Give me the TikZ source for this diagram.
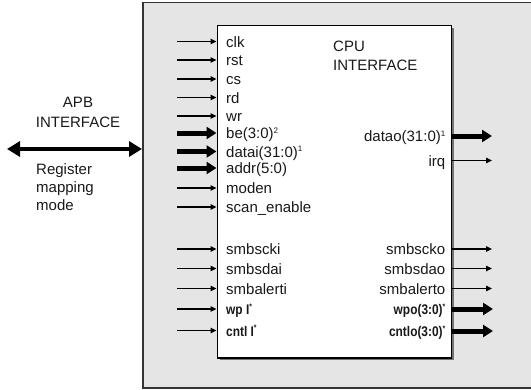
\documentclass[tikz,border=0pt]{standalone}
\usepackage{fontspec}
\setmainfont{Liberation Sans}
\newfontfamily\condb{Liberation Sans}[FakeStretch=0.85]
\usetikzlibrary{arrows.meta}
\newcommand{\supmark}[1]{\raisebox{5.5pt}{\fontsize{8}{8}\selectfont #1}}
\begin{document}
\begin{tikzpicture}[x=1pt,y=-1pt,
  lab/.style={inner sep=0pt, font=\fontsize{15}{18}\selectfont, text=black!90},
  blab/.style={inner sep=0pt, font=\condb\bfseries\fontsize{14}{18}\selectfont, text=black!90},
  thinarr/.style={line width=1.4pt, -{Triangle[length=6pt,width=5.5pt]}},
  thickarr/.style={line width=5pt, -{Triangle[length=10pt,width=12pt]}},
  busarr/.style={line width=4pt, {Triangle[length=13pt,width=15pt]}-{Triangle[length=13pt,width=15pt]}},
  outerbox/.style={draw=black!80, line width=1.5pt, fill=black!10, inner sep=0pt},
  cpubox/.style={draw=black, line width=1.5pt, fill=white, inner sep=0pt}
]
\clip (0,0) rectangle (531,389);
\fill[white] (0,0) rectangle (531,389);
% outer block
\node[outerbox, anchor=north west, minimum width=395, minimum height=385.5] (outer) at (142,1.5) {};
% shadow and cpu interface block
\fill[black!55] (219.5,27.5) rectangle (454,360);
\node[cpubox, anchor=north west, minimum width=234, minimum height=332.5] (cpu) at (216.5,24.5) {};
\node[lab, anchor=base west, align=left] (title) at (333,51) {CPU};
\node[lab, anchor=base west, align=left] (title2) at (333,70) {INTERFACE};
% inputs
\foreach \n/\y/\t/\s in {clk/41.5/clk/thinarr, rst/60/rst/thinarr, cs/79/cs/thinarr, rd/97.5/rd/thinarr, wr/116/wr/thinarr,
  be/133/{be(3:0)\supmark{2}}/thickarr, datai/151.5/{datai(31:0)\supmark{1}}/thickarr, addr/168/{addr(5:0)}/thickarr,
  moden/188/moden/thinarr, scan/207/scan\_enable/thinarr, smbscki/249/smbscki/thinarr, smbsdai/268.5/smbsdai/thinarr,
  smbalerti/288.5/smbalerti/thinarr}{
  \coordinate (i-\n) at (177,\y);
  \draw[\s] (i-\n) -- (i-\n -| cpu.west);
  \node[lab, anchor=base west] (l-\n) at (226,\y+5.5) {\t};
}
\foreach \n/\y/\t in {wp/309/{wp I\supmark{*}}, cntl/330.5/{cntl I\supmark{*}}}{
  \coordinate (i-\n) at (177,\y);
  \draw[thinarr] (i-\n) -- (i-\n -| cpu.west);
  \node[blab, anchor=base west] (l-\n) at (226,\y+5.5) {\t};
}
% outputs
\foreach \n/\y/\t/\s in {datao/136/{datao(31:0)\supmark{1}}/thickarr, irq/160.5/irq/thinarr,
  smbscko/249/smbscko/thinarr, smbsdao/268.5/smbsdao/thinarr, smbalerto/288.5/smbalerto/thinarr}{
  \coordinate (o-\n) at (492,\y);
  \draw[\s] (o-\n -| cpu.east) -- (o-\n);
  \node[lab, anchor=base east] (l-\n) at (445.5,\y+5.5) {\t};
}
\foreach \n/\y/\t in {wpo/309/{wpo(3:0)\supmark{*}}, cntlo/331/{cntlo(3:0)\supmark{*}}}{
  \coordinate (o-\n) at (493,\y);
  \draw[thickarr] (o-\n -| cpu.east) -- (o-\n);
  \node[blab, anchor=base east] (l-\n) at (445.5,\y+5.5) {\t};
}
% APB side
\node[lab, align=center, font=\fontsize{15}{20}\selectfont] (apb) at (78,112) {APB\\INTERFACE};
\coordinate (busend) at (7,149);
\draw[busarr] (busend) -- (busend -| outer.west);
\node[lab, align=left, anchor=north west, font=\fontsize{15}{18.2}\selectfont] (reg) at (36,163) {Register\\mapping\\mode};
\end{tikzpicture}
\end{document}
